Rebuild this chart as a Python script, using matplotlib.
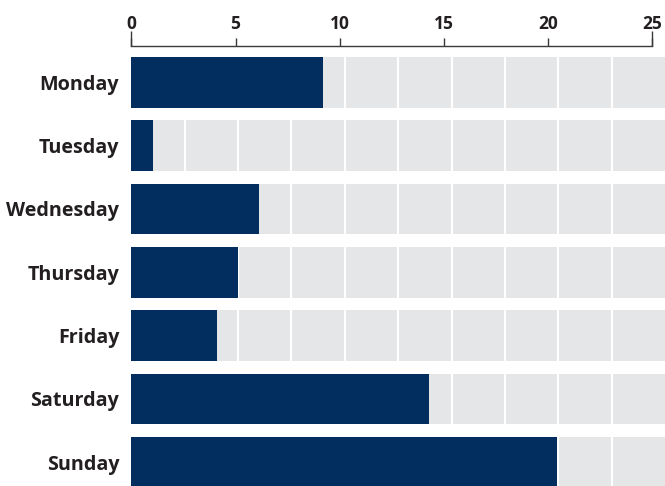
import matplotlib
matplotlib.use("Agg")
import matplotlib.pyplot as plt
import numpy as np

days = ["Monday", "Tuesday", "Wednesday", "Thursday", "Friday", "Saturday", "Sunday"]
values = [9.2, 1.05, 6.13, 5.12, 4.12, 14.27, 20.41]
x_ticks = [0, 5, 10, 15, 20, 25]

NAVY = "#022d5f"
GRAY = "#e5e6e7"
TEXT = "#231f20"
AXIS = "#3a3a3a"
BG_MAX = 25.6
N_CELLS = 10

plt.rcParams["font.family"] = ["Open Sans", "DejaVu Sans"]

W, H = 665, 486
fig = plt.figure(figsize=(W / 100, H / 100), dpi=100)
left = 131.3 / W
top_px = 46.3
ax = fig.add_axes([left, 0, 1 - left, (H - top_px) / H])

y = np.arange(len(days))
ax.barh(y, [BG_MAX] * len(days), height=0.8, color=GRAY, zorder=1)
cell_edges = np.arange(1, N_CELLS) * BG_MAX / N_CELLS
ax.vlines(cell_edges, -0.4, len(days) - 0.6, colors="white", linewidth=1.5, zorder=2)
ax.barh(y, values, height=0.8, color=NAVY, zorder=3)

ax.set_xlim(0, BG_MAX)
ax.set_ylim(6.374, -0.569)

ax.xaxis.tick_top()
ax.xaxis.set_label_position("top")
ax.set_xticks(x_ticks)
ax.set_xticklabels([str(t) for t in x_ticks], fontsize=12.5, fontweight="bold", color=TEXT)
ax.set_xticks([0, 25], minor=True)
ax.xaxis.remove_overlapping_locs = False
ax.tick_params(axis="x", which="major", length=5.8, width=1.0, color=AXIS, pad=4.0)
ax.tick_params(axis="x", which="minor", length=10.8, width=1.0, color=AXIS, labeltop=False)

ax.set_yticks(y)
ax.set_yticklabels(days, fontsize=14.2, fontweight="bold", color=TEXT)
ax.tick_params(axis="y", length=0, pad=8.6)

for s in ["left", "right", "bottom"]:
    ax.spines[s].set_visible(False)
ax.spines["top"].set_bounds(0, 25)
ax.spines["top"].set_color(AXIS)
ax.spines["top"].set_linewidth(1.0)
ax.set_facecolor("white")

fig.savefig("out.png", dpi=100)
